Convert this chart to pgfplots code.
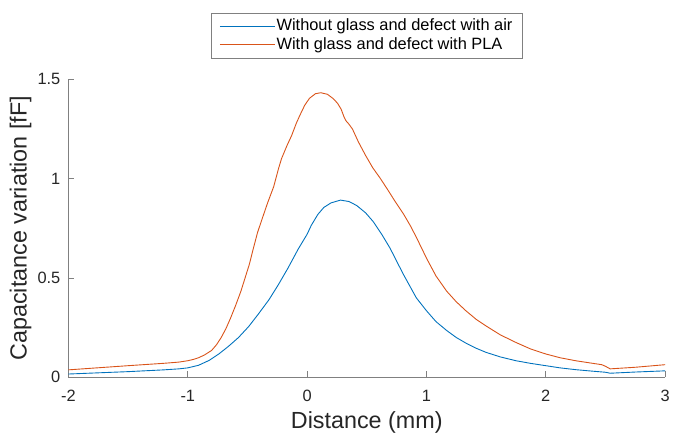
\documentclass[border=0pt]{standalone}
\usepackage{pgfplots}
\pgfplotsset{compat=1.18}
\usepackage{fontspec}
\setmainfont{Liberation Sans}
\definecolor{mblue}{rgb}{0,0.447,0.741}
\definecolor{morange}{rgb}{0.85,0.325,0.098}
\definecolor{axgray}{rgb}{0.5,0.5,0.5}
\definecolor{txt}{rgb}{0.15,0.15,0.15}
\begin{document}
\begin{tikzpicture}
\begin{axis}[
  scale only axis,
  width=601pt, height=300pt,
  xmin=-2, xmax=3, ymin=0, ymax=1.5,
  xtick={-2,-1,0,1,2,3},
  ytick={0,0.5,1,1.5},
  axis x line*=bottom, axis y line*=left,
  axis line style={axgray, line width=0.8pt, -},
  tick align=inside, major tick length=6pt,
  tick style={axgray, line width=0.8pt},
  /pgf/number format/assume math mode=true,
  ticklabel style={font=\fontsize{16.5}{19}\selectfont, text=txt},
  xticklabel style={anchor=base, inner sep=0pt, yshift=-24pt},
  yticklabel style={anchor=east, inner sep=0pt, xshift=-8pt},
  xlabel={Distance (mm)},
  ylabel={Capacitance variation [fF]},
  label style={font=\fontsize{23.5}{28}\selectfont, text=txt},
  xlabel style={at={(axis description cs:0.5,0)}, anchor=base, inner sep=0pt, yshift=-52pt},
  ylabel style={at={(axis description cs:-0.0616,0.5)}, anchor=south, inner sep=0pt},
  legend style={at={(axis description cs:0.5,1)}, anchor=south, yshift=21pt,
    draw=axgray, line width=0.8pt, font=\fontsize{16.5}{19}\selectfont, text=black,
    inner xsep=8pt, inner ysep=4pt, row sep=0pt,
    nodes={inner sep=1.6pt, text height=12pt, text depth=3.5pt}},
  legend cell align=left,
  legend image code/.code={\draw[#1, line width=0.9pt] (0pt,0pt) -- (55pt,0pt);},
]
\addplot[mblue, line width=0.9pt] coordinates {
(-2.0,0.016) (-1.5,0.028) (-1.2,0.037) (-1.075,0.042) (-1.0,0.047) (-0.91,0.06)
(-0.82,0.085) (-0.74,0.117) (-0.66,0.155) (-0.575,0.20) (-0.49,0.255) (-0.41,0.317)
(-0.32,0.39) (-0.24,0.467) (-0.16,0.55) (-0.075,0.645) (0.0,0.72) (0.035,0.765)
(0.09,0.82) (0.14,0.855) (0.2,0.878) (0.28,0.892) (0.35,0.885) (0.415,0.865)
(0.49,0.828) (0.555,0.783) (0.625,0.72) (0.695,0.65) (0.75,0.585) (0.805,0.52)
(0.86,0.46) (0.915,0.40) (1.0,0.335) (1.08,0.28) (1.17,0.235) (1.25,0.2) (1.33,0.172)
(1.42,0.145) (1.5,0.125) (1.62,0.102) (1.75,0.083) (1.87,0.07) (2.0,0.058) (2.12,0.047)
(2.25,0.038) (2.38,0.031) (2.5,0.025) (2.54,0.02) (2.75,0.026) (3.0,0.032)
};
\addlegendentry{Without glass and defect with air}
\addplot[morange, line width=0.9pt] coordinates {
(-2.0,0.037) (-1.5,0.058) (-1.2,0.07) (-1.075,0.076) (-1.0,0.083) (-0.95,0.09) (-0.91,0.098)
(-0.86,0.112) (-0.8,0.135) (-0.76,0.163) (-0.72,0.20) (-0.68,0.245) (-0.64,0.30)
(-0.6,0.36) (-0.555,0.433) (-0.52,0.50) (-0.485,0.567) (-0.45,0.65) (-0.415,0.73)
(-0.37,0.81) (-0.33,0.88) (-0.28,0.96) (-0.24,1.05) (-0.215,1.10) (-0.17,1.165)
(-0.13,1.217) (-0.09,1.28) (-0.06,1.32) (-0.02,1.37) (0.02,1.405) (0.07,1.428)
(0.115,1.433) (0.17,1.425) (0.215,1.405) (0.255,1.38) (0.285,1.35) (0.31,1.31)
(0.325,1.292) (0.35,1.275) (0.38,1.25) (0.43,1.185) (0.49,1.117) (0.55,1.055)
(0.615,1.0) (0.68,0.94) (0.74,0.883) (0.81,0.82) (0.87,0.758) (0.915,0.705)
(0.96,0.65) (1.0,0.60) (1.08,0.51) (1.17,0.433) (1.25,0.38) (1.33,0.335) (1.42,0.29)
(1.5,0.258) (1.62,0.213) (1.75,0.175) (1.87,0.143) (2.0,0.117) (2.12,0.098)
(2.25,0.083) (2.37,0.072) (2.47,0.063) (2.5,0.055) (2.54,0.042) (2.75,0.05) (3.0,0.063)
};
\addlegendentry{With glass and defect with PLA}
\end{axis}
\pgfresetboundingbox
\path (current axis.south west) ++(-69pt,-59pt) rectangle ++(678pt,439pt);
\end{tikzpicture}
\end{document}
